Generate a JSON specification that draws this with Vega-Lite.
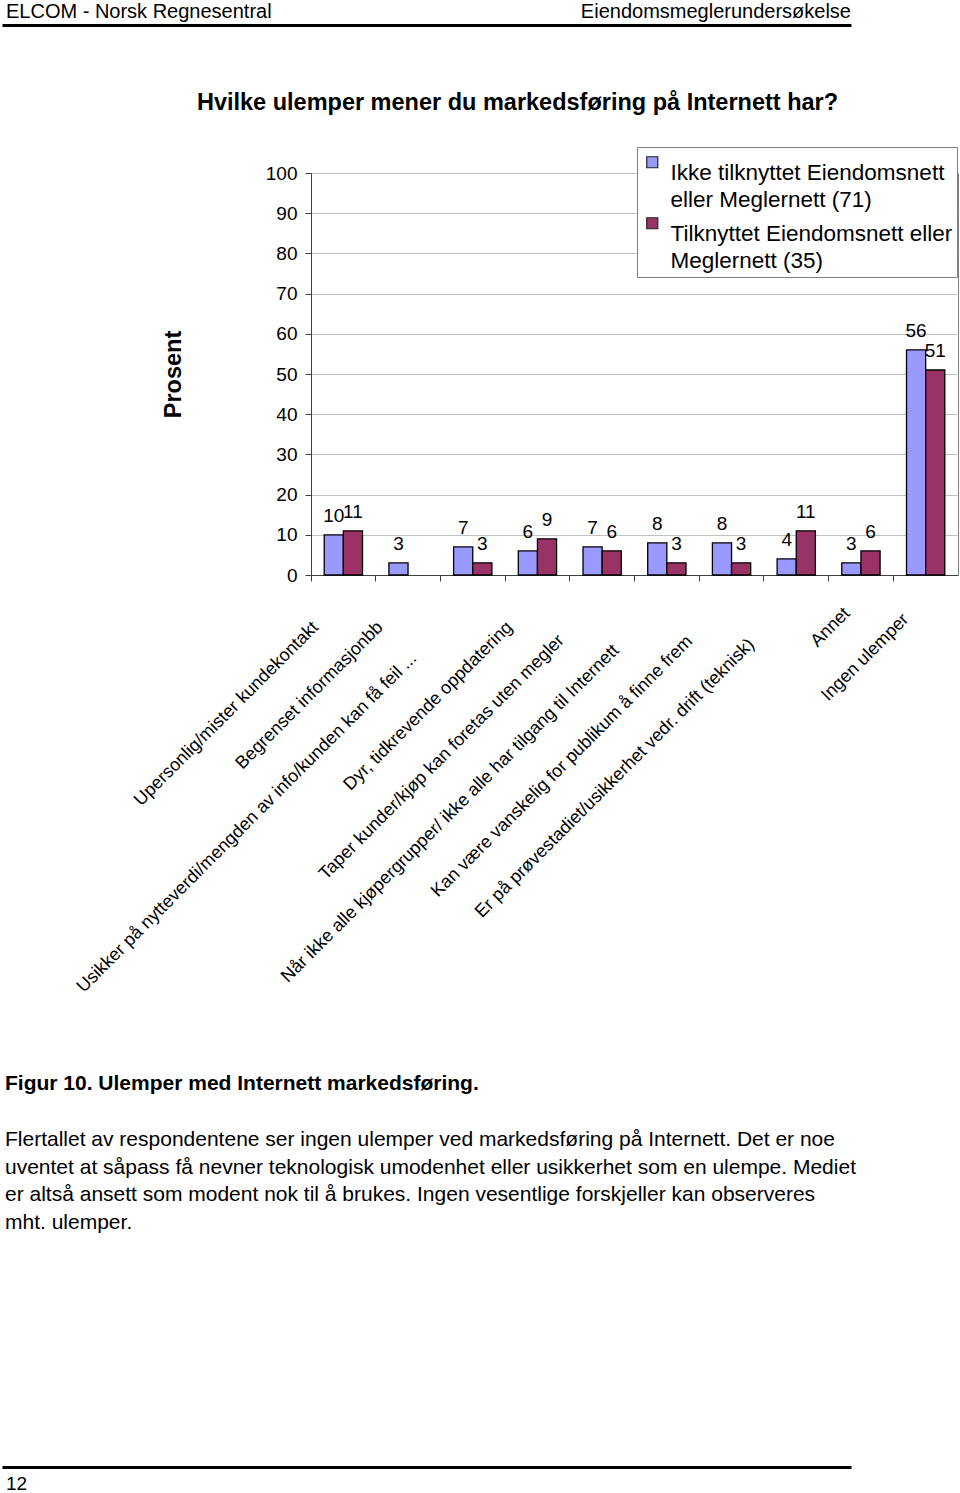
{
  "$schema": "https://vega.github.io/schema/vega-lite/v6.json",
  "padding": {"left": 2, "top": 0, "right": 0, "bottom": 0},
  "background": "white",
  "spacing": 49,
  "bounds": "full",
  "config": {
    "font": "Liberation Sans",
    "view": {"stroke": null},
    "style": {"guide-label": {"lineHeight": 27}}
  },
  "vconcat": [
    {
      "width": 849,
      "height": 25,
      "data": {"values": [
        {"tekst": "ELCOM - Norsk Regnesentral", "side": "venstre"},
        {"tekst": "Eiendomsmeglerundersøkelse", "side": "høyre"}
      ]},
      "encoding": {
        "x": {
          "field": "side", "type": "nominal",
          "scale": {"type": "point", "domain": ["venstre", "høyre"], "padding": 0},
          "axis": {
            "orient": "bottom", "labels": false, "ticks": false, "grid": false,
            "domainColor": "black", "domainWidth": 3,
            "title": "Hvilke ulemper mener du markedsføring på Internett har?",
            "titleFontSize": 23.5, "titleFontWeight": "bold", "titleColor": "black",
            "titlePadding": 65, "titleX": 515, "titleAlign": "center"
          }
        },
        "text": {"field": "tekst"}
      },
      "layer": [
        {
          "transform": [{"filter": "datum.side === 'venstre'"}],
          "mark": {"type": "text", "align": "left", "baseline": "middle", "fontSize": 20, "dx": 4, "dy": -0.5, "color": "black"}
        },
        {
          "transform": [{"filter": "datum.side === 'høyre'"}],
          "mark": {"type": "text", "align": "right", "baseline": "middle", "fontSize": 20, "dy": -0.5, "color": "black"}
        }
      ]
    },
    {
      "hconcat": [
        {
          "width": 309,
          "height": 850,
          "data": {"values": []},
          "mark": "text"
        },
        {
          "width": 647,
          "height": 402,
          "view": {"stroke": "#808080", "strokeWidth": 1},
          "data": {"values": [
            {"kategori": "Upersonlig/mister kundekontakt", "gruppe": "Ikke tilknyttet Eiendomsnett eller Meglernett (71)", "prosent": 10},
            {"kategori": "Upersonlig/mister kundekontakt", "gruppe": "Tilknyttet Eiendomsnett eller Meglernett (35)", "prosent": 11},
            {"kategori": "Begrenset informasjonbb", "gruppe": "Ikke tilknyttet Eiendomsnett eller Meglernett (71)", "prosent": 3},
            {"kategori": "Usikker på nytteverdi/mengden av info/kunden kan få feil ...", "gruppe": "Ikke tilknyttet Eiendomsnett eller Meglernett (71)", "prosent": 7},
            {"kategori": "Usikker på nytteverdi/mengden av info/kunden kan få feil ...", "gruppe": "Tilknyttet Eiendomsnett eller Meglernett (35)", "prosent": 3},
            {"kategori": "Dyr, tidkrevende oppdatering", "gruppe": "Ikke tilknyttet Eiendomsnett eller Meglernett (71)", "prosent": 6},
            {"kategori": "Dyr, tidkrevende oppdatering", "gruppe": "Tilknyttet Eiendomsnett eller Meglernett (35)", "prosent": 9},
            {"kategori": "Taper kunder/kjøp kan foretas uten megler", "gruppe": "Ikke tilknyttet Eiendomsnett eller Meglernett (71)", "prosent": 7},
            {"kategori": "Taper kunder/kjøp kan foretas uten megler", "gruppe": "Tilknyttet Eiendomsnett eller Meglernett (35)", "prosent": 6},
            {"kategori": "Når ikke alle kjøpergrupper/ ikke alle har tilgang til Internett", "gruppe": "Ikke tilknyttet Eiendomsnett eller Meglernett (71)", "prosent": 8},
            {"kategori": "Når ikke alle kjøpergrupper/ ikke alle har tilgang til Internett", "gruppe": "Tilknyttet Eiendomsnett eller Meglernett (35)", "prosent": 3},
            {"kategori": "Kan være vanskelig for publikum å finne frem", "gruppe": "Ikke tilknyttet Eiendomsnett eller Meglernett (71)", "prosent": 8},
            {"kategori": "Kan være vanskelig for publikum å finne frem", "gruppe": "Tilknyttet Eiendomsnett eller Meglernett (35)", "prosent": 3},
            {"kategori": "Er på prøvestadiet/usikkerhet vedr. drift (teknisk)", "gruppe": "Ikke tilknyttet Eiendomsnett eller Meglernett (71)", "prosent": 4},
            {"kategori": "Er på prøvestadiet/usikkerhet vedr. drift (teknisk)", "gruppe": "Tilknyttet Eiendomsnett eller Meglernett (35)", "prosent": 11},
            {"kategori": "Annet", "gruppe": "Ikke tilknyttet Eiendomsnett eller Meglernett (71)", "prosent": 3},
            {"kategori": "Annet", "gruppe": "Tilknyttet Eiendomsnett eller Meglernett (35)", "prosent": 6},
            {"kategori": "Ingen ulemper", "gruppe": "Ikke tilknyttet Eiendomsnett eller Meglernett (71)", "prosent": 56},
            {"kategori": "Ingen ulemper", "gruppe": "Tilknyttet Eiendomsnett eller Meglernett (35)", "prosent": 51}
          ]},
          "encoding": {
            "x": {
              "field": "kategori", "type": "nominal",
              "scale": {
                "domain": [
                  "Upersonlig/mister kundekontakt",
                  "Begrenset informasjonbb",
                  "Usikker på nytteverdi/mengden av info/kunden kan få feil ...",
                  "Dyr, tidkrevende oppdatering",
                  "Taper kunder/kjøp kan foretas uten megler",
                  "Når ikke alle kjøpergrupper/ ikke alle har tilgang til Internett",
                  "Kan være vanskelig for publikum å finne frem",
                  "Er på prøvestadiet/usikkerhet vedr. drift (teknisk)",
                  "Annet",
                  "Ingen ulemper"
                ],
                "paddingInner": 0, "paddingOuter": 0
              },
              "axis": {
                "title": null, "bandPosition": 0, "grid": false,
                "labelAngle": -45, "labelAlign": "right", "labelBaseline": "top",
                "labelFontSize": 18, "labelColor": "black",
                "labelOffset": {
                  "condition": [
                    {"test": "datum.value === 'Usikker på nytteverdi/mengden av info/kunden kan få feil ...'", "value": -65},
                    {"test": "datum.value === 'Taper kunder/kjøp kan foretas uten megler'", "value": -47},
                    {"test": "datum.value === 'Når ikke alle kjøpergrupper/ ikke alle har tilgang til Internett'", "value": -57},
                    {"test": "datum.value === 'Kan være vanskelig for publikum å finne frem'", "value": -48},
                    {"test": "datum.value === 'Er på prøvestadiet/usikkerhet vedr. drift (teknisk)'", "value": -51},
                    {"test": "datum.value === 'Annet'", "value": -20},
                    {"test": "datum.value === 'Ingen ulemper'", "value": -26}
                  ],
                  "value": -34
                },
                "labelPadding": {
                  "condition": [
                    {"test": "datum.value === 'Usikker på nytteverdi/mengden av info/kunden kan få feil ...'", "value": 68},
                    {"test": "datum.value === 'Taper kunder/kjøp kan foretas uten megler'", "value": 50},
                    {"test": "datum.value === 'Når ikke alle kjøpergrupper/ ikke alle har tilgang til Internett'", "value": 60},
                    {"test": "datum.value === 'Kan være vanskelig for publikum å finne frem'", "value": 51},
                    {"test": "datum.value === 'Er på prøvestadiet/usikkerhet vedr. drift (teknisk)'", "value": 54},
                    {"test": "datum.value === 'Annet'", "value": 23},
                    {"test": "datum.value === 'Ingen ulemper'", "value": 29}
                  ],
                  "value": 37
                },
                "labelLimit": 700, "labelOverlap": false,
                "tickSize": 6, "tickColor": "#404040", "domainColor": "#404040"
              }
            },
            "xOffset": {
              "field": "gruppe", "type": "nominal",
              "scale": {
                "domain": ["Ikke tilknyttet Eiendomsnett eller Meglernett (71)", "Tilknyttet Eiendomsnett eller Meglernett (35)"],
                "paddingInner": 0, "paddingOuter": 0.69
              }
            },
            "y": {
              "field": "prosent", "type": "quantitative",
              "scale": {"domain": [0, 100]},
              "axis": {
                "title": "Prosent", "titleFontSize": 23.5, "titleFontWeight": "bold", "titleColor": "black", "titlePadding": 80,
                "values": [0, 10, 20, 30, 40, 50, 60, 70, 80, 90, 100],
                "labelFontSize": 19, "labelColor": "black", "labelPadding": 8,
                "tickSize": 6, "tickColor": "#404040", "domainColor": "#404040",
                "grid": true, "gridColor": "#c0c0c0"
              }
            }
          },
          "layer": [
            {
              "mark": {"type": "bar", "stroke": "black", "strokeWidth": 1.3},
              "encoding": {
                "color": {
                  "field": "gruppe", "type": "nominal",
                  "scale": {
                    "domain": ["Ikke tilknyttet Eiendomsnett eller Meglernett (71)", "Tilknyttet Eiendomsnett eller Meglernett (35)"],
                    "range": ["#9999FF", "#993366"]
                  },
                  "legend": {
                    "title": null, "orient": "none", "legendX": 635, "legendY": 147,
                    "fillColor": "white", "strokeColor": "#808080", "padding": 4,
                    "labelFontSize": 22.5, "labelColor": "black", "labelLimit": 400, "labelBaseline": "top",
                    "labelOffset": 7, "rowPadding": 0,
                    "symbolType": "square", "symbolSize": 121, "symbolStrokeColor": "#222", "symbolStrokeWidth": 1.2,
                    "labelExpr": "datum.label == 'Ikke tilknyttet Eiendomsnett eller Meglernett (71)' ? ['Ikke tilknyttet Eiendomsnett', 'eller Meglernett (71)'] : ['Tilknyttet Eiendomsnett eller', 'Meglernett (35)']"
                  }
                }
              }
            },
            {
              "mark": {"type": "text", "baseline": "alphabetic", "dy": -13, "fontSize": 19, "color": "black"},
              "encoding": {"text": {"field": "prosent", "type": "quantitative"}}
            }
          ]
        }
      ],
      "bounds": "flush",
      "spacing": 0
    },
    {
      "width": 849,
      "height": 26,
      "data": {"values": [{"sidetall": "12"}]},
      "title": {
        "text": "Figur 10. Ulemper med Internett markedsføring.",
        "subtitle": [
          "Flertallet av respondentene ser ingen ulemper ved markedsføring på Internett. Det er noe",
          "uventet at såpass få nevner teknologisk umodenhet eller usikkerhet som en ulempe. Mediet",
          "er altså ansett som modent nok til å brukes. Ingen vesentlige forskjeller kan observeres",
          "mht. ulemper."
        ],
        "anchor": "start", "orient": "top", "frame": "group",
        "fontSize": 21, "fontWeight": "bold", "color": "black",
        "subtitleFontSize": 21, "subtitleColor": "black", "subtitleFont": "Liberation Sans",
        "subtitlePadding": 35, "subtitleLineHeight": 27.7,
        "offset": 234, "dx": 3
      },
      "mark": {"type": "text", "align": "left", "baseline": "middle", "fontSize": 19, "dx": 4, "dy": 4, "color": "black"},
      "encoding": {
        "x": {
          "field": "sidetall", "type": "nominal",
          "scale": {"type": "point", "align": 0, "padding": 0},
          "axis": {"orient": "top", "labels": false, "ticks": false, "grid": false, "domainColor": "black", "domainWidth": 3, "title": null}
        },
        "text": {"field": "sidetall"}
      }
    }
  ]
}
